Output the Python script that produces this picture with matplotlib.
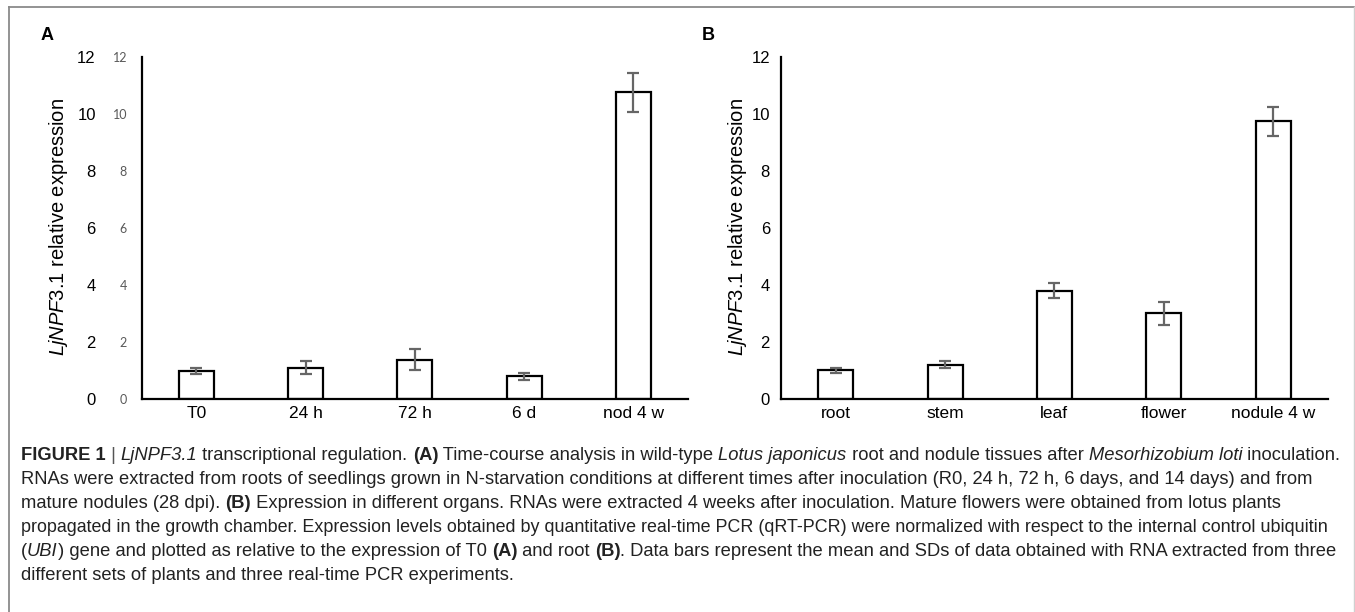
import matplotlib
matplotlib.use("Agg")
import matplotlib.pyplot as plt
from matplotlib.lines import Line2D
import numpy as np

# ---------------- data ----------------
cats_a = ["T0", "24 h", "72 h", "6 d", "nod 4 w"]
vals_a = [0.98, 1.10, 1.38, 0.80, 10.75]
errs_a = [0.10, 0.22, 0.36, 0.12, 0.68]

cats_b = ["root", "stem", "leaf", "flower", "nodule 4 w"]
vals_b = [1.00, 1.20, 3.80, 3.00, 9.73]
errs_b = [0.10, 0.13, 0.25, 0.40, 0.51]

yticks = [0, 2, 4, 6, 8, 10, 12]
ylabel_it = "LjNPF3.1"
ylabel_rest = " relative expression"

caption_lines = [
    [("FIGURE 1", "b"), (" | ", "n"), ("LjNPF3.1", "i"), (" transcriptional regulation. ", "n"),
     ("(A)", "b"), (" Time-course analysis in wild-type ", "n"), ("Lotus japonicus", "i"),
     (" root and nodule tissues after ", "n"), ("Mesorhizobium loti", "i"), (" inoculation.", "n")],
    [("RNAs were extracted from roots of seedlings grown in N-starvation conditions at different times "
      "after inoculation (R0, 24 h, 72 h, 6 days, and 14 days) and from", "n")],
    [("mature nodules (28 dpi). ", "n"), ("(B)", "b"),
     (" Expression in different organs. RNAs were extracted 4 weeks after inoculation. "
      "Mature flowers were obtained from lotus plants", "n")],
    [("propagated in the growth chamber. Expression levels obtained by quantitative real-time PCR "
      "(qRT-PCR) were normalized with respect to the internal control ubiquitin", "n")],
    [("(", "n"), ("UBI", "i"), (") gene and plotted as relative to the expression of T0 ", "n"),
     ("(A)", "b"), (" and root ", "n"), ("(B)", "b"),
     (". Data bars represent the mean and SDs of data obtained with RNA extracted from three", "n")],
    [("different sets of plants and three real-time PCR experiments.", "n")],
]

# ---------------- style ----------------
FONT = "Liberation Sans"
plt.rcParams["font.family"] = [FONT, "DejaVu Sans"]
plt.rcParams["mathtext.fontset"] = "custom"
plt.rcParams["mathtext.it"] = FONT + ":italic"
plt.rcParams["mathtext.rm"] = FONT

W, H = 1355, 612
fig = plt.figure(figsize=(W / 100, H / 100), dpi=100)

# frame around the figure
fig.add_artist(Line2D([9 / W, 9 / W], [0, 1 - 7 / H], transform=fig.transFigure, color="#8a8a8a", lw=1.3))
fig.add_artist(Line2D([9 / W, 1354 / W], [1 - 7 / H, 1 - 7 / H], transform=fig.transFigure, color="#8a8a8a", lw=1.3))
fig.add_artist(Line2D([1354 / W, 1354 / W], [0, 1 - 7 / H], transform=fig.transFigure, color="#d0d0d0", lw=1.0))

bottom = 1 - 399 / H
height = (399 - 56.7) / H
axA = fig.add_axes([141.7 / W, bottom, (688 - 141.7) / W, height])
axB = fig.add_axes([781 / W, bottom, (1327.7 - 781) / W, height])


def panel(ax, cats, vals, errs):
    x = np.arange(len(cats))
    ax.bar(x, vals, width=0.32, color="white", edgecolor="black", linewidth=1.6, zorder=2)
    ax.errorbar(x, vals, yerr=errs, fmt="none", ecolor="#666666", elinewidth=1.6,
                capsize=4, capthick=1.6, zorder=3)
    ax.set_xlim(-0.5, len(cats) - 0.5)
    ax.set_ylim(0, 12)
    ax.set_yticks(yticks)
    ax.set_xticks(x)
    ax.set_xticklabels(cats, fontsize=12.5)
    for s in ("top", "right"):
        ax.spines[s].set_visible(False)
    for s in ("left", "bottom"):
        ax.spines[s].set_linewidth(1.6)
    ax.tick_params(axis="both", length=0)
    ax.tick_params(axis="x", pad=5)


panel(axA, cats_a, vals_a, errs_a)
panel(axB, cats_b, vals_b, errs_b)

# panel A: small gray tick labels + larger black secondary labels
axA.set_yticklabels([str(t) for t in yticks], fontsize=9, color="#595959", family="Lato")
axA.tick_params(axis="y", pad=10.5)
sec = axA.secondary_yaxis("left")
sec.set_yticks(yticks)
sec.set_yticklabels([str(t) for t in yticks], fontsize=12)
sec.tick_params(axis="y", length=0, pad=33)
sec.spines["left"].set_visible(False)

axB.set_yticklabels([str(t) for t in yticks], fontsize=12)
axB.tick_params(axis="y", pad=8)

label = r"$\mathit{" + ylabel_it + "}$" + ylabel_rest
fig.text(58 / W, 1 - 227 / H, label, rotation=90, fontsize=14.5, ha="center", va="center")
fig.text(738 / W, 1 - 227 / H, label, rotation=90, fontsize=14.5, ha="center", va="center")

fig.text(41 / W, 1 - 36 / H, "A", fontsize=13, fontweight="bold", ha="left", va="center")
fig.text(702 / W, 1 - 36 / H, "B", fontsize=13, fontweight="bold", ha="left", va="center")

# ---------------- caption ----------------
fig.canvas.draw()
renderer = fig.canvas.get_renderer()
cap_color = "#222222"
y0 = 455
dy = 24.2
for i, segs in enumerate(caption_lines):
    xpix = 21
    ypix = y0 + i * dy
    size = 12.85 if i == 3 else 13.2
    for txt, st in segs:
        kw = dict(fontsize=size, color=cap_color, va="center", ha="left")
        if st == "b":
            kw["fontweight"] = "bold"
        elif st == "i":
            kw["fontstyle"] = "italic"
        if txt.strip() == "|":
            kw["color"] = "#555555"
        t = fig.text(xpix / W, 1 - ypix / H, txt, **kw)
        bb = t.get_window_extent(renderer=renderer)
        xpix += bb.width

fig.savefig("out.png", dpi=100)
